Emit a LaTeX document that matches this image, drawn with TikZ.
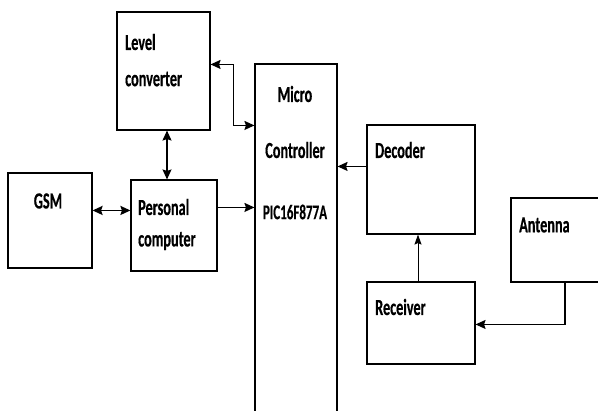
\documentclass[tikz,border=0pt]{standalone}
\usepackage{fontspec}
\setmainfont{Carlito}[FakeStretch=0.62,BoldFeatures={FakeBold=0.4}]
\usetikzlibrary{calc,arrows.meta}
\begin{document}
\begin{tikzpicture}[x=1pt,y=-1pt,
  blk/.style={draw,line width=1.1pt,rectangle,inner sep=0pt},
  lbl/.style={font=\fontsize{23}{25}\selectfont\bfseries,inner sep=0pt,anchor=west},
  clbl/.style={font=\fontsize{23}{25}\selectfont\bfseries,inner sep=0pt},
  tip/.tip={Stealth[length=10pt,width=9pt,inset=1.5pt]},
  conn/.style={line width=1.4pt,-tip},
  bconn/.style={line width=1.4pt,tip-tip},
  thin/.style={line width=1pt,-{Stealth[length=10pt,width=7pt,inset=1.5pt]}}]
\clip (0,0) rectangle (598,411);
\fill[white] (0,0) rectangle (598,411);
\node[blk,minimum width=93pt,minimum height=118pt] (level) at (163.5,71) {};
\node[blk,minimum width=82pt,minimum height=356pt] (micro) at (296,242) {};
\node[blk,minimum width=84pt,minimum height=95pt] (gsm) at (50,220.5) {};
\node[blk,minimum width=86pt,minimum height=91pt] (pc) at (174,225.5) {};
\node[blk,minimum width=108pt,minimum height=109pt] (decoder) at (421,179.5) {};
\node[blk,minimum width=108pt,minimum height=82pt] (receiver) at (421,323) {};
\node[blk,minimum width=89pt,minimum height=84pt] (antenna) at (555.5,240) {};
% labels
\node[lbl] (t1) at (125,42) {Level};
\node[lbl] (t2) at (125,79) {converter};
\node[clbl] (t3) at (295,94) {Micro};
\node[clbl] (t4) at (295,150) {Controller};
\node[clbl,font=\fontsize{21}{25}\selectfont\bfseries] (t5) at (295,212) {PIC16F877A};
\node[clbl] (t6) at (48,201) {GSM};
\node[lbl] (t7) at (138,207) {Personal};
\node[lbl] (t8) at (138,241) {computer};
\node[lbl] (t9) at (375,150) {Decoder};
\node[lbl] (t10) at (375,307) {Receiver};
\node[lbl] (t11) at (519,225) {Antenna};
% connector end points
\coordinate (a1) at ($(level.north east)+(0,53)$);
\coordinate (a2) at ($(micro.north west)+(0,62)$);
\coordinate (b1) at ($(level.south)+(3.5,0)$);
\coordinate (b2) at (b1 |- pc.north);
\coordinate (c1) at ($(gsm.north east)+(0,38)$);
\coordinate (c2) at (c1 -| pc.west);
\coordinate (d1) at ($(pc.north east)+(0,28)$);
\coordinate (d2) at (d1 -| micro.west);
\coordinate (e1) at ($(decoder.north west)+(0,42)$);
\coordinate (e2) at (e1 -| micro.east);
\coordinate (f1) at ($(receiver.north)+(-3,0)$);
\coordinate (f2) at (f1 |- decoder.south);
\coordinate (g1) at ($(antenna.south)+(9.5,0)$);
\coordinate (g2) at ($(receiver.north east)+(0,43)$);
% connectors
\draw[bconn] (a1) -- ++(23,0) |- (a2);
\draw[bconn] (b1) -- (b2);
\draw[bconn,line width=1.8pt] (c1) -- (c2);
\draw[conn] (d1) -- (d2);
\draw[conn] (e1) -- (e2);
\draw[thin] (f1) -- (f2);
\draw[conn,line width=1.2pt] (g1) |- (g2);
\end{tikzpicture}
\end{document}
